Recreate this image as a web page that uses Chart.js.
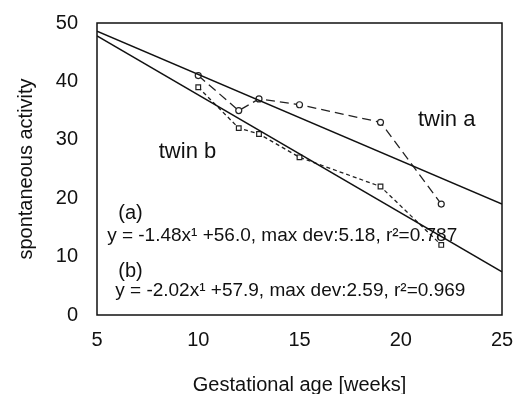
<!DOCTYPE html>
<html>
<head>
<meta charset="utf-8">
<script src="https://cdn.jsdelivr.net/npm/chart.js@4/dist/chart.umd.min.js"></script>
<style>
  html, body { margin: 0; padding: 0; background: #fff; }
  canvas { display: block; }
</style>
</head>
<body>
<canvas id="grafico" width="517" height="394"></canvas>
<script>
// semanas de gestação medidas
const semanas = [10, 12, 13, 15, 19, 22];
// atividade espontânea de cada gêmeo
const gemeoA = [41, 35, 37, 36, 33, 19];
const gemeoB = [39, 32, 31, 27, 22, 12];
// retas ajustadas: [inclinação, intercepto]
const ajusteA = [-1.48, 56.0];
const ajusteB = [-2.02, 57.9];
const limitesX = [5, 25];
const ticksY = [0, 10, 20, 30, 40, 50];

const fonte = '"Liberation Sans", Arial, Helvetica, sans-serif';

function pontos(xs, ys) {
    let lista = [];
    for (var i = 0; i < xs.length; i++) {
        lista.push({ x: xs[i], y: ys[i] });
    }
    return lista;
}

function reta(ajuste) {
    return limitesX.map(x => ({ x: x, y: ajuste[0] * x + ajuste[1] }));
}

// textos escritos dentro do gráfico, em coordenadas de dados
const textos = [
    { t: 'twin a', x: 20.85, y: 33.4, size: 22 },
    { t: 'twin b', x: 8.05, y: 28.0, size: 22 },
    { t: '(a)', x: 6.05, y: 17.3, size: 20 },
    { t: 'y = -1.48x\u00b9 +56.0, max dev:5.18, r\u00b2=0.787', x: 5.5, y: 13.5, size: 19 },
    { t: '(b)', x: 6.05, y: 7.4, size: 20 },
    { t: 'y = -2.02x\u00b9 +57.9, max dev:2.59, r\u00b2=0.969', x: 5.9, y: 4.2, size: 19 }
];

const moldura = {
    id: 'moldura',
    afterDraw(chart) {
        const ctx = chart.ctx;
        const a = chart.chartArea;
        ctx.save();
        ctx.strokeStyle = '#111';
        ctx.lineWidth = 1.5;
        ctx.strokeRect(a.left, a.top, a.right - a.left, a.bottom - a.top);
        ctx.fillStyle = '#111';
        ctx.textBaseline = 'middle';
        ctx.textAlign = 'left';
        textos.forEach(item => {
            ctx.font = item.size + 'px ' + fonte;
            ctx.fillText(item.t, chart.scales.x.getPixelForValue(item.x), chart.scales.y.getPixelForValue(item.y));
        });
        ctx.restore();
    }
};

const cty = document.getElementById('grafico');
new Chart(cty, {
    type: 'scatter',
    data: {
        datasets: [
            {
                label: 'ajuste a',
                data: reta(ajusteA),
                showLine: true,
                borderColor: '#111',
                borderWidth: 1.5,
                pointRadius: 0
            },
            {
                label: 'ajuste b',
                data: reta(ajusteB),
                showLine: true,
                borderColor: '#111',
                borderWidth: 1.5,
                pointRadius: 0
            },
            {
                label: 'twin a',
                data: pontos(semanas, gemeoA),
                showLine: true,
                borderColor: '#222',
                borderWidth: 1.3,
                borderDash: [9, 5],
                pointStyle: 'circle',
                pointRadius: 3,
                pointBorderWidth: 1.2,
                pointBackgroundColor: '#fff',
                pointBorderColor: '#222'
            },
            {
                label: 'twin b',
                data: pontos(semanas, gemeoB),
                showLine: true,
                borderColor: '#222',
                borderWidth: 1.3,
                borderDash: [4, 3],
                pointStyle: 'rect',
                pointRadius: 3.3,
                pointBorderWidth: 1.2,
                pointBackgroundColor: '#fff',
                pointBorderColor: '#222'
            }
        ]
    },
    options: {
        responsive: false,
        animation: false,
        layout: { padding: { top: 23, right: 15, left: 0, bottom: 0 } },
        plugins: {
            legend: { display: false },
            tooltip: { enabled: false }
        },
        scales: {
            x: {
                type: 'linear',
                min: limitesX[0],
                max: limitesX[1],
                grid: { display: false, drawTicks: false },
                border: { display: false },
                ticks: {
                    stepSize: 5,
                    padding: 13,
                    color: '#111',
                    font: { family: fonte, size: 20 }
                },
                title: {
                    display: true,
                    text: 'Gestational age [weeks]',
                    color: '#111',
                    font: { family: fonte, size: 20, lineHeight: 0.9 },
                    padding: { top: 0, bottom: 0 }
                },
                afterFit(scale) {
                    scale.height = 79;
                    scale.paddingLeft = 0;
                    scale.paddingRight = 0;
                }
            },
            y: {
                min: ticksY[0],
                max: ticksY[ticksY.length - 1],
                grid: { display: false, drawTicks: false },
                border: { display: false },
                afterBuildTicks(scale) { scale.ticks = ticksY.map(v => ({ value: v })); },
                ticks: {
                    padding: 19,
                    color: '#111',
                    font: { family: fonte, size: 20 }
                },
                title: {
                    display: true,
                    text: 'spontaneous activity',
                    color: '#111',
                    font: { family: fonte, size: 20 },
                    padding: { top: 14, bottom: 0 }
                },
                afterFit(scale) {
                    scale.width = 97;
                    scale.paddingTop = 0;
                    scale.paddingBottom = 0;
                }
            }
        }
    },
    plugins: [moldura]
});
</script>
</body>
</html>
